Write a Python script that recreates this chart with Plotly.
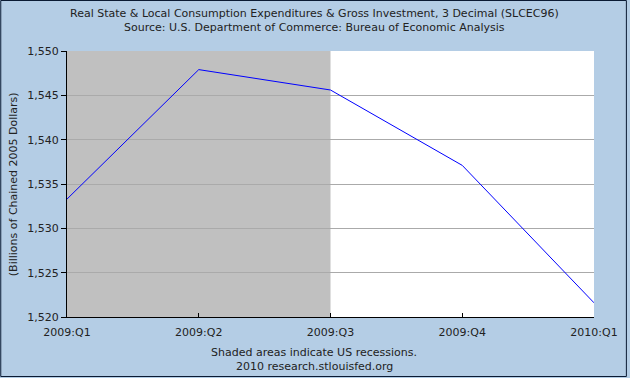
import plotly.graph_objects as go

quarters = ["2009:Q1", "2009:Q2", "2009:Q3", "2009:Q4", "2010:Q1"]
values = [1533.3, 1547.9, 1545.6, 1537.1, 1521.6]
y_ticks = [1520, 1525, 1530, 1535, 1540, 1545, 1550]
y_tick_labels = ["1,520", "1,525", "1,530", "1,535", "1,540", "1,545", "1,550"]
recession = (0, 2)  # 2009:Q1 .. 2009:Q3

W, H = 630, 378
L, R, T, B = 67, 34, 51, 61
ph = H - T - B
pw = W - L - R

def py(pix):
    return 1 - (pix - T) / ph

def px(pix):
    return (pix - L) / pw

xs = list(range(len(quarters)))
font = dict(family="DejaVu Sans, Verdana, sans-serif", size=11, color="#222222")

fig = go.Figure()
fig.add_trace(go.Scatter(x=xs, y=values, mode="lines",
                         line=dict(color="#0000ff", width=1), hoverinfo="skip"))

fig.add_shape(type="rect", xref="x", yref="paper", x0=recession[0], x1=recession[1],
              y0=0, y1=1, fillcolor="#c0c0c0", line=dict(width=0), layer="between")
fig.add_shape(type="rect", xref="paper", yref="paper", x0=px(0.5), x1=px(W - 1.5),
              y0=py(H - 1.5), y1=py(0.5), line=dict(color="#0a1a33", width=1),
              fillcolor="rgba(0,0,0,0)", layer="above")

annos = [
    ("Real State & Local Consumption Expenditures & Gross Investment, 3 Decimal (SLCEC96)", 13),
    ("Source: U.S. Department of Commerce: Bureau of Economic Analysis", 27),
    ("Shaded areas indicate US recessions.", 352),
    ("2010 research.stlouisfed.org", 366),
]
for text, ypix in annos:
    fig.add_annotation(text=text, xref="paper", yref="paper", x=px(315), y=py(ypix),
                       xanchor="center", yanchor="middle", showarrow=False, font=font)

fig.add_annotation(text="(Billions of Chained 2005 Dollars)", xref="paper", yref="paper",
                   x=px(13), y=py(184), textangle=-90, xanchor="center", yanchor="middle",
                   showarrow=False, font=font)

fig.update_layout(
    width=W, height=H,
    margin=dict(l=L, r=R, t=T, b=B),
    paper_bgcolor="#b4cde5",
    plot_bgcolor="#ffffff",
    showlegend=False,
    hovermode=False,
    font=font,
    xaxis=dict(range=[0, 4], tickvals=xs, ticktext=quarters, ticks="inside", ticklen=4,
               tickcolor="#000000", showgrid=False, zeroline=False, showline=True,
               linecolor="#000000", linewidth=1, fixedrange=True, tickfont=font,
               ticklabelstandoff=5),
    yaxis=dict(range=[1520, 1550], tickvals=y_ticks, ticktext=y_tick_labels, ticks="outside",
               ticklen=5, tickcolor="#000000", showgrid=True, gridcolor="#aaaaaa",
               gridwidth=1, zeroline=False, showline=True, linecolor="#000000",
               linewidth=1, fixedrange=True, tickfont=font),
)

fig.write_html("out.html", config={"displayModeBar": False, "staticPlot": True},
               post_script="document.body.style.margin='0px';document.body.style.overflow='hidden';")
